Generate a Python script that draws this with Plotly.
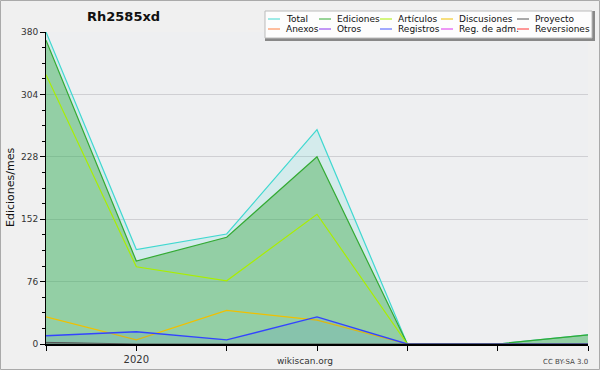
import plotly.graph_objects as go

months = ["2019-12", "2020-01", "2020-02", "2020-03", "2020-04", "2020-05", "2020-06"]
tick_labels = ["", "2020", "", "", "", "", ""]
total = [380, 115, 134, 261, 0, 0, 11]
ediciones = [370, 101, 130, 228, 0, 0, 11]
articulos = [328, 94, 77, 158, 0, 0, 0]
discusiones = [33, 5, 41, 29, 0, 0, 0]
registros = [10, 15, 5, 33, 0, 0, 0]
proyecto = [2, 0, 0, 0, 0, 0, 0]

legend_names = ["Total", "Ediciones", "Artículos", "Discusiones", "Proyecto",
                "Anexos", "Otros", "Registros", "Reg. de adm.", "Reversiones"]
legend_colors = ["#40d8d0", "#33aa33", "#aaee00", "#f0c000", "#555555",
                 "#ff7f3f", "#8833ee", "#4455ff", "#dd33ee", "#ff3333"]

W, H = 600, 370
ML, MR, MT, MB = 46, 12, 32, 26
PW, PH = W - ML - MR, H - MT - MB


def px(x):
    return (x - ML) / PW


def py(y):
    return (H - MB - y) / PH


fig = go.Figure()
fig.add_trace(go.Scatter(x=months, y=total, mode="lines", fill="tozeroy",
                         line=dict(color="#40d8d0", width=1.2),
                         fillcolor="rgba(64,216,208,0.15)", showlegend=False))
fig.add_trace(go.Scatter(x=months, y=ediciones, mode="lines", fill="tozeroy",
                         line=dict(color="#33aa33", width=1.2),
                         fillcolor="rgba(50,165,60,0.40)", showlegend=False))
fig.add_trace(go.Scatter(x=months, y=articulos, mode="lines",
                         line=dict(color="#aaee00", width=1.2), showlegend=False))
fig.add_trace(go.Scatter(x=months, y=discusiones, mode="lines",
                         line=dict(color="#f0c000", width=1.2), showlegend=False))
fig.add_trace(go.Scatter(x=months, y=registros, mode="lines", fill="tozeroy",
                         line=dict(color="#3344ff", width=1.4),
                         fillcolor="rgba(0,60,255,0.08)", showlegend=False))
fig.add_trace(go.Scatter(x=months, y=proyecto, mode="lines", fill="tozeroy",
                         line=dict(color="#555555", width=1),
                         fillcolor="rgba(80,80,80,0.5)", showlegend=False))

shapes = []
annotations = []
# outer border
shapes.append(dict(type="rect", xref="paper", yref="paper",
                   x0=px(0.5), x1=px(W - 0.5), y0=py(0.5), y1=py(H - 0.5),
                   line=dict(color="#aaaaaa", width=1), fillcolor="rgba(0,0,0,0)", layer="above"))
# legend box (shadow + box)
shapes.append(dict(type="rect", xref="paper", yref="paper",
                   x0=px(266), x1=px(594), y0=py(12), y1=py(40),
                   line=dict(color="#888888", width=2), fillcolor="#888888", layer="above"))
shapes.append(dict(type="rect", xref="paper", yref="paper",
                   x0=px(265), x1=px(592), y0=py(11), y1=py(38),
                   line=dict(color="#bbbbbb", width=1), fillcolor="#fdfdfd", layer="above"))
col_x = [268, 319, 380, 441, 517]
row_y = [19, 29]
for i, (name, col) in enumerate(zip(legend_names, legend_colors)):
    cx = col_x[i % 5]
    ry = row_y[i // 5]
    shapes.append(dict(type="line", xref="paper", yref="paper",
                       x0=px(cx), x1=px(cx + 12), y0=py(ry), y1=py(ry),
                       line=dict(color=col, width=1), layer="above"))
    annotations.append(dict(text=name, xref="paper", yref="paper", x=px(cx + 16), y=py(ry),
                            xanchor="left", yanchor="middle", showarrow=False,
                            font=dict(family="DejaVu Sans", size=9, color="#111111")))

annotations.append(dict(text="<b>Rh2585xd</b>", xref="paper", yref="paper", x=px(85), y=py(17),
                        xanchor="left", yanchor="middle", showarrow=False,
                        font=dict(family="DejaVu Sans", size=13, color="#111111")))
annotations.append(dict(text="wikiscan.org", xref="paper", yref="paper", x=px(305), y=py(361),
                        xanchor="center", yanchor="middle", showarrow=False,
                        font=dict(family="DejaVu Sans", size=9, color="#333333")))
annotations.append(dict(text="CC BY-SA 3.0", xref="paper", yref="paper", x=px(590), y=py(362),
                        xanchor="right", yanchor="middle", showarrow=False,
                        font=dict(family="DejaVu Sans", size=7, color="#444444")))
annotations.append(dict(text="Ediciones/mes", xref="paper", yref="paper", x=px(10), y=py(188),
                        xanchor="center", yanchor="middle", showarrow=False, textangle=-90,
                        font=dict(family="DejaVu Sans", size=11, color="#111111")))

fig.update_layout(
    width=W, height=H,
    margin=dict(l=ML, r=MR, t=MT, b=MB, autoexpand=False),
    paper_bgcolor="#f0f0f0",
    plot_bgcolor="#eeeff1",
    showlegend=False,
    shapes=shapes,
    annotations=annotations,
    xaxis=dict(type="category", range=[0, len(months) - 1], tickmode="array", automargin=False,
               tickvals=months, ticktext=tick_labels, ticks="outside", ticklen=5,
               tickcolor="#000000", showline=True, linecolor="#000000", linewidth=1.5,
               showgrid=False, zeroline=False,
               tickfont=dict(family="DejaVu Sans", size=10, color="#333333")),
    yaxis=dict(range=[0, 380], tickmode="array", tickvals=[0, 76, 152, 228, 304, 380], automargin=False,
               ticks="outside", ticklen=5, tickcolor="#000000",
               showline=True, linecolor="#000000", linewidth=1,
               showgrid=True, gridcolor="#cfcfd3", gridwidth=1, zeroline=False,
               minor=dict(dtick=19, tick0=0, ticks="outside", ticklen=3, tickcolor="#000000", showgrid=False),
               tickfont=dict(family="DejaVu Sans", size=9, color="#333333")),
)

fig.write_html("out.html", config={"displayModeBar": False},
               post_script="document.body.style.margin='0';document.body.style.overflow='hidden';")
